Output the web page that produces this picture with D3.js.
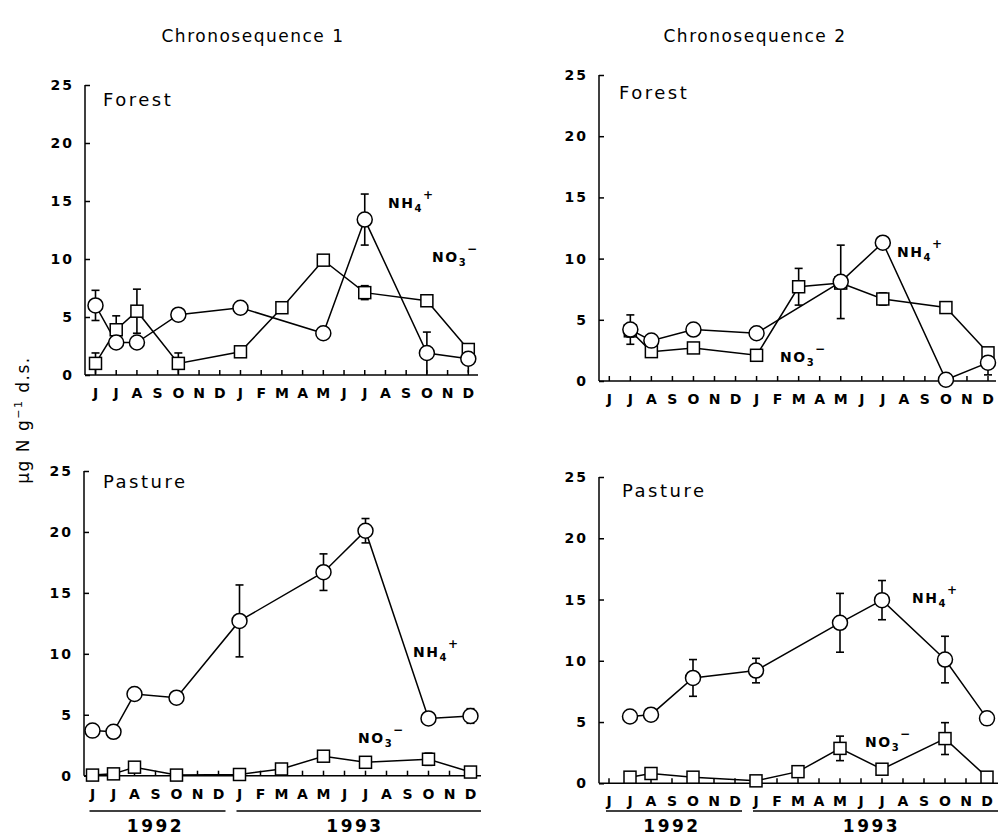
<!DOCTYPE html>
<html>
<head>
<meta charset="utf-8">
<script src="https://cdn.jsdelivr.net/npm/d3@7"></script>
<style>
  body { margin: 0; background: #fff; }
  svg { display: block; font-family: "DejaVu Sans", sans-serif; }
</style>
</head>
<body>
<svg id="chart" width="998" height="836"></svg>
<script>
// month letters, Jun 1992 .. Dec 1993 (index 0..18)
const months = ["J","J","A","S","O","N","D","J","F","M","A","M","J","J","A","S","O","N","D"];
const yTicks = [0, 5, 10, 15, 20, 25];
const years = [["1992", 0, 6], ["1993", 7, 18]];
const titles = ["Chronosequence 1", "Chronosequence 2"];

// [month index, mean, error]
const c1ForestNH4 = [[0,6.0,1.3],[1,2.8,0],[2,2.8,0],[4,5.2,0],[7,5.8,0.5],[11,3.6,0],[13,13.4,2.2],[16,1.9,1.8],[18,1.4,1.2]];
const c1ForestNO3 = [[0,1.0,0.9],[1,3.9,1.2],[2,5.5,1.9],[4,1.0,0.9],[7,2.0,0],[9,5.8,0],[11,9.9,0],[13,7.1,0.6],[16,6.4,0],[18,2.2,0]];
const c2ForestNH4 = [[1,4.2,1.2],[2,3.3,0],[4,4.2,0],[7,3.9,0],[11,8.1,3.0],[13,11.3,0],[16,0.1,0],[18,1.5,1.0]];
const c2ForestNO3 = [[1,4.1,0.5],[2,2.4,0.3],[4,2.7,0],[7,2.1,0],[9,7.7,1.5],[11,8.0,0],[13,6.7,0.5],[16,6.0,0],[18,2.3,0]];
const c1PastureNH4 = [[0,3.7,0],[1,3.6,0],[2,6.7,0.5],[4,6.4,0],[7,12.7,2.95],[11,16.7,1.5],[13,20.1,1.0],[16,4.7,0],[18,4.9,0.6]];
const c1PastureNO3 = [[0,0.05,0.2],[1,0.15,0],[2,0.7,0.3],[4,0.05,0],[7,0.1,0],[9,0.55,0],[11,1.6,0],[13,1.1,0],[16,1.35,0.5],[18,0.3,0]];
const c2PastureNH4 = [[1,5.45,0],[2,5.6,0],[4,8.6,1.5],[7,9.2,1.0],[11,13.1,2.4],[13,14.95,1.6],[16,10.1,1.9],[18,5.3,0.5]];
const c2PastureNO3 = [[1,0.5,0],[2,0.8,0.3],[4,0.5,0],[7,0.2,0],[9,0.95,0],[11,2.85,1.0],[13,1.15,0],[16,3.65,1.3],[18,0.5,0]];

const panels = [
  { name: "Forest", nh4: c1ForestNH4, no3: c1ForestNO3, left: 85, x0: 95.5, x1: 468.3, right: 478, y0: 375, y25: 85,
    labelPos: [103, 106], nh4Pos: [388, 208], no3Pos: [432, 262], yearsOn: false },
  { name: "Forest", nh4: c2ForestNH4, no3: c2ForestNO3, left: 599, x0: 609.3, x1: 988, right: 996, y0: 381, y25: 75,
    labelPos: [619, 99], nh4Pos: [897, 257], no3Pos: [780, 362], yearsOn: false },
  { name: "Pasture", nh4: c1PastureNH4, no3: c1PastureNO3, left: 84, x0: 92.5, x1: 470.5, right: 481, y0: 775.7, y25: 471,
    labelPos: [103, 488], nh4Pos: [413, 657], no3Pos: [358, 743], yearsOn: true },
  { name: "Pasture", nh4: c2PastureNH4, no3: c2PastureNO3, left: 599, x0: 609, x1: 987, right: 998, y0: 783.3, y25: 477,
    labelPos: [622, 497], nh4Pos: [912, 603], no3Pos: [865, 747], yearsOn: true }
];

const svg = d3.select("#chart");

// column titles
svg.selectAll("text.title")
  .data(titles)
  .enter()
  .append("text")
  .attr("class", "title")
  .attr("x", (d, i) => i === 0 ? 253 : 755)
  .attr("y", 42)
  .attr("text-anchor", "middle")
  .attr("font-size", 17)
  .attr("letter-spacing", 1.5)
  .text(d => d);

// shared y-axis title
svg.append("text")
  .attr("transform", "translate(29,420) rotate(-90)")
  .attr("text-anchor", "middle")
  .attr("font-size", 17)
  .attr("letter-spacing", 1.5)
  .html('µg N g<tspan dy="-7" font-size="11">−1</tspan><tspan dy="7"> d.s.</tspan>');

panels.forEach(p => drawPanel(p));

function drawPanel(p) {
  const x = d3.scaleLinear().domain([0, 18]).range([p.x0, p.x1]);
  const y = d3.scaleLinear().domain([0, 25]).range([p.y0, p.y25]);
  const g = svg.append("g");

  // y axis, ticks pointing inward
  const yAxis = d3.axisRight(y).tickValues(yTicks).tickSize(5).tickFormat("");
  g.append("g").attr("transform", `translate(${p.left},0)`).call(yAxis)
    .call(a => a.select(".domain").remove())
    .call(a => a.selectAll("line").attr("stroke-width", 1.5));
  g.append("line")
    .attr("x1", p.left).attr("x2", p.left)
    .attr("y1", y(0)).attr("y2", y(25))
    .attr("stroke", "#000").attr("stroke-width", 1.5);
  g.selectAll("text.ytick")
    .data(yTicks)
    .enter()
    .append("text")
    .attr("x", p.left - 11)
    .attr("y", d => y(d) + 5)
    .attr("text-anchor", "end")
    .attr("font-size", 14)
    .attr("font-weight", "bold")
    .attr("letter-spacing", 2)
    .text(d => d);

  // x axis, ticks pointing up
  g.append("line")
    .attr("x1", p.left).attr("x2", p.right)
    .attr("y1", y(0)).attr("y2", y(0))
    .attr("stroke", "#000").attr("stroke-width", 1.5);
  g.selectAll("line.xtick")
    .data(months)
    .enter()
    .append("line")
    .attr("x1", (d, i) => x(i)).attr("x2", (d, i) => x(i))
    .attr("y1", y(0)).attr("y2", y(0) - 5)
    .attr("stroke", "#000").attr("stroke-width", 1.5);
  g.selectAll("text.month")
    .data(months)
    .enter()
    .append("text")
    .attr("x", (d, i) => x(i))
    .attr("y", y(0) + 23)
    .attr("text-anchor", "middle")
    .attr("font-size", 14)
    .attr("font-weight", "bold")
    .text(d => d);

  if (p.yearsOn) {
    years.forEach(([label, a, b]) => {
      const xa = x(a) - 3, xb = b === 18 ? p.right : x(b) + 7;
      g.append("line")
        .attr("x1", xa).attr("x2", xb)
        .attr("y1", 811).attr("y2", 811)
        .attr("stroke", "#000").attr("stroke-width", 1.5);
      g.append("text")
        .attr("x", (x(a) + x(b)) / 2)
        .attr("y", 832)
        .attr("text-anchor", "middle")
        .attr("font-size", 17)
        .attr("font-weight", "bold")
        .attr("letter-spacing", 2.5)
        .text(label);
    });
  }

  // panel name
  g.append("text")
    .attr("x", p.labelPos[0]).attr("y", p.labelPos[1])
    .attr("font-size", 18)
    .attr("letter-spacing", 2.5)
    .text(p.name);

  // series
  const line = d3.line().x(d => x(d[0])).y(d => y(d[1]));
  [p.no3, p.nh4].forEach(series => {
    g.append("path")
      .attr("d", line(series))
      .attr("fill", "none")
      .attr("stroke", "#000")
      .attr("stroke-width", 1.5);
  });

  [p.no3, p.nh4].forEach(series => {
    const withErr = series.filter(d => d[2] > 0);
    g.selectAll(null).data(withErr).enter().append("line")
      .attr("x1", d => x(d[0])).attr("x2", d => x(d[0]))
      .attr("y1", d => y(Math.max(0, d[1] - d[2]))).attr("y2", d => y(d[1] + d[2]))
      .attr("stroke", "#000").attr("stroke-width", 1.6);
    g.selectAll(null).data(withErr).enter().append("line")
      .attr("x1", d => x(d[0]) - 4).attr("x2", d => x(d[0]) + 4)
      .attr("y1", d => y(d[1] + d[2])).attr("y2", d => y(d[1] + d[2]))
      .attr("stroke", "#000").attr("stroke-width", 1.6);
    g.selectAll(null).data(withErr.filter(d => d[1] - d[2] > 0.3)).enter().append("line")
      .attr("x1", d => x(d[0]) - 4).attr("x2", d => x(d[0]) + 4)
      .attr("y1", d => y(d[1] - d[2])).attr("y2", d => y(d[1] - d[2]))
      .attr("stroke", "#000").attr("stroke-width", 1.6);
  });

  g.selectAll(null).data(p.no3).enter().append("rect")
    .attr("x", d => x(d[0]) - 6).attr("y", d => y(d[1]) - 6)
    .attr("width", 12).attr("height", 12)
    .attr("fill", "#fff").attr("stroke", "#000").attr("stroke-width", 1.5);
  g.selectAll(null).data(p.nh4).enter().append("circle")
    .attr("cx", d => x(d[0])).attr("cy", d => y(d[1]))
    .attr("r", 7.5)
    .attr("fill", "#fff").attr("stroke", "#000").attr("stroke-width", 1.5);

  // ion labels
  g.append("text")
    .attr("x", p.nh4Pos[0]).attr("y", p.nh4Pos[1])
    .attr("font-size", 14).attr("font-weight", "bold").attr("letter-spacing", 1.5)
    .html('NH<tspan dy="4" font-size="10">4</tspan><tspan dy="-13" font-size="12">+</tspan>');
  g.append("text")
    .attr("x", p.no3Pos[0]).attr("y", p.no3Pos[1])
    .attr("font-size", 14).attr("font-weight", "bold").attr("letter-spacing", 1.5)
    .html('NO<tspan dy="4" font-size="10">3</tspan><tspan dy="-13" font-size="12">−</tspan>');
}
</script>
</body>
</html>
